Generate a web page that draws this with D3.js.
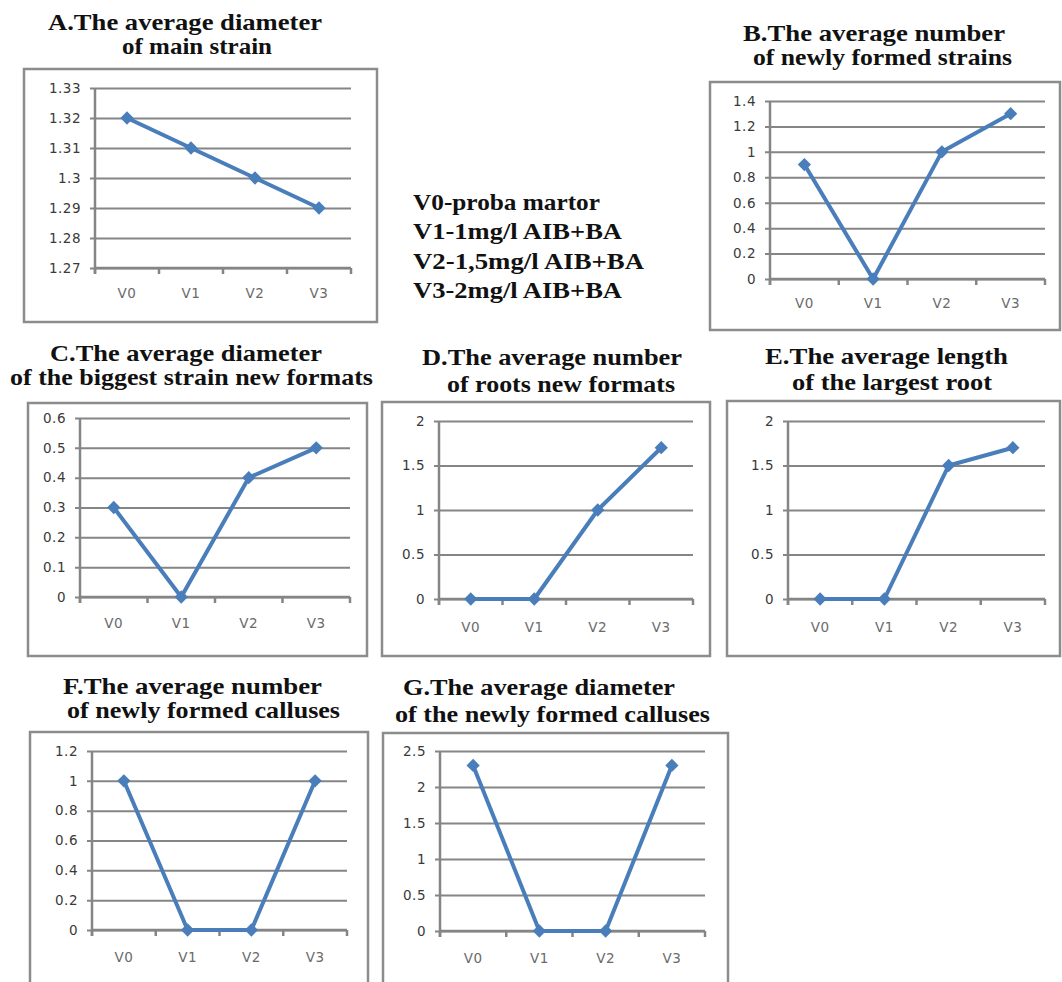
<!DOCTYPE html>
<html>
<head>
<meta charset="utf-8">
<script src="https://cdn.jsdelivr.net/npm/d3@7"></script>
<style>
  html, body { margin: 0; padding: 0; background: #fff; }
  svg { display: block; }
</style>
</head>
<body>
<svg id="chart" width="1062" height="982"></svg>
<script>
// ---------------- DATA ----------------
const categories = ["V0", "V1", "V2", "V3"];

const seriesA = [1.32, 1.31, 1.30, 1.29];
const seriesB = [0.9, 0, 1.0, 1.3];
const seriesC = [0.3, 0, 0.4, 0.5];
const seriesD = [0, 0, 1.0, 1.7];
const seriesE = [0, 0, 1.5, 1.7];
const seriesF = [1.0, 0, 0, 1.0];
const seriesG = [2.3, 0, 0, 2.3];

const ticksA = [1.27, 1.28, 1.29, 1.30, 1.31, 1.32, 1.33];
const tickLabelsA = ["1.27", "1.28", "1.29", "1.3", "1.31", "1.32", "1.33"];
const ticksB = [0, 0.2, 0.4, 0.6, 0.8, 1.0, 1.2, 1.4];
const tickLabelsB = ["0", "0.2", "0.4", "0.6", "0.8", "1", "1.2", "1.4"];
const ticksC = [0, 0.1, 0.2, 0.3, 0.4, 0.5, 0.6];
const tickLabelsC = ["0", "0.1", "0.2", "0.3", "0.4", "0.5", "0.6"];
const ticksD = [0, 0.5, 1.0, 1.5, 2.0];
const tickLabelsD = ["0", "0.5", "1", "1.5", "2"];
const ticksE = [0, 0.5, 1.0, 1.5, 2.0];
const tickLabelsE = ["0", "0.5", "1", "1.5", "2"];
const ticksF = [0, 0.2, 0.4, 0.6, 0.8, 1.0, 1.2];
const tickLabelsF = ["0", "0.2", "0.4", "0.6", "0.8", "1", "1.2"];
const ticksG = [0, 0.5, 1.0, 1.5, 2.0, 2.5];
const tickLabelsG = ["0", "0.5", "1", "1.5", "2", "2.5"];

const titleA = ["A.The average diameter", "of main strain"];
const titleB = ["B.The average number", "of newly formed strains"];
const titleC = ["C.The average diameter", "of the biggest strain new formats"];
const titleD = ["D.The average number", "of roots new formats"];
const titleE = ["E.The average length", "of the largest root"];
const titleF = ["F.The average number", "of newly formed calluses"];
const titleG = ["G.The average diameter", "of the newly formed calluses"];

const legendLines = ["V0-proba martor", "V1-1mg/l AIB+BA", "V2-1,5mg/l AIB+BA", "V3-2mg/l AIB+BA"];

// ---------------- LAYOUT ----------------
// titlePos: [left x, baseline y, rendered width]
const panels = [
  { title: titleA, values: seriesA, ticks: ticksA, labels: tickLabelsA,
    frame: [24, 69, 377, 322], plot: [95, 88, 351, 268], xLabelY: 293,
    titlePos: [[48, 30, 274], [122, 54, 150]] },
  { title: titleB, values: seriesB, ticks: ticksB, labels: tickLabelsB,
    frame: [710, 82, 1060, 330], plot: [770, 101, 1045, 279], xLabelY: 303,
    titlePos: [[743, 41, 262], [753, 65, 259]] },
  { title: titleC, values: seriesC, ticks: ticksC, labels: tickLabelsC,
    frame: [28, 403, 367, 656], plot: [80, 418, 350, 597], xLabelY: 623,
    titlePos: [[50, 361, 272], [10, 385, 363]] },
  { title: titleD, values: seriesD, ticks: ticksD, labels: tickLabelsD,
    frame: [382, 402, 710, 656], plot: [439, 421, 693, 599], xLabelY: 627,
    titlePos: [[422, 365, 260], [447, 392, 228]] },
  { title: titleE, values: seriesE, ticks: ticksE, labels: tickLabelsE,
    frame: [727, 401, 1060, 656], plot: [788, 421, 1045, 599], xLabelY: 627,
    titlePos: [[765, 364, 243], [792, 390, 200]] },
  { title: titleF, values: seriesF, ticks: ticksF, labels: tickLabelsF,
    frame: [30, 732, 368, 995], plot: [92, 751, 347, 930], xLabelY: 957,
    titlePos: [[63, 694, 259], [67, 718, 273]] },
  { title: titleG, values: seriesG, ticks: ticksG, labels: tickLabelsG,
    frame: [383, 733, 728, 995], plot: [440, 751, 705, 931], xLabelY: 958,
    titlePos: [[403, 695, 272], [395, 722, 315]] }
];
const legendPos = { x: 413, y: 210, dy: 29.3, widths: [187, 209, 231, 209] };

const LINE_COLOR = "#4a7ebb";
const GRID_COLOR = "#858585";
const FRAME_COLOR = "#8c8c8c";
const TITLE_FONT = "'Liberation Serif', 'Times New Roman', serif";
const TICK_FONT = "'DejaVu Sans', Verdana, sans-serif";
const TITLE_SIZE = 23.5;

const svg = d3.select("#chart");

panels.forEach(p => {
  const g = svg.append("g");

  // titles
  p.title.forEach((t, i) => {
    g.append("text")
      .attr("x", p.titlePos[i][0])
      .attr("y", p.titlePos[i][1])
      .attr("textLength", p.titlePos[i][2])
      .attr("lengthAdjust", "spacingAndGlyphs")
      .attr("font-family", TITLE_FONT)
      .attr("font-weight", "bold")
      .attr("font-size", TITLE_SIZE)
      .attr("fill", "#111")
      .text(t);
  });

  // frame
  const [fx0, fy0, fx1, fy1] = p.frame;
  g.append("rect")
    .attr("x", fx0).attr("y", fy0)
    .attr("width", fx1 - fx0).attr("height", fy1 - fy0)
    .attr("fill", "#fff")
    .attr("stroke", FRAME_COLOR)
    .attr("stroke-width", 2.5);

  const [px0, py0, px1, py1] = p.plot;
  const x = d3.scaleBand().domain(categories).range([px0, px1]).padding(0);
  const y = d3.scaleLinear()
    .domain([p.ticks[0], p.ticks[p.ticks.length - 1]])
    .range([py1, py0]);

  // y axis with gridlines
  const yAxis = d3.axisLeft(y)
    .tickValues(p.ticks)
    .tickFormat((d, i) => p.labels[i])
    .tickSizeInner(-(px1 - px0))
    .tickSizeOuter(0)
    .tickPadding(14);
  const ya = g.append("g")
    .attr("transform", `translate(${px0},0)`)
    .call(yAxis);
  ya.select(".domain").remove();
  ya.selectAll(".tick line")
    .attr("x1", -5)
    .attr("stroke", GRID_COLOR)
    .attr("stroke-width", 2);
  ya.selectAll(".tick text")
    .attr("x", -14)
    .attr("font-family", TICK_FONT)
    .attr("font-size", 13.5)
    .attr("letter-spacing", 0.5)
    .attr("fill", "#3a3a3a");

  // y axis line
  g.append("line")
    .attr("x1", px0).attr("x2", px0)
    .attr("y1", y.range()[1]).attr("y2", y.range()[0] + 6)
    .attr("stroke", GRID_COLOR).attr("stroke-width", 2.5);

  // x axis line and boundary ticks
  const xa = g.append("g").attr("transform", `translate(0,${py1})`);
  xa.append("line")
    .attr("x1", px0).attr("x2", px1)
    .attr("stroke", GRID_COLOR).attr("stroke-width", 2.5);
  const bounds = categories.map(c => x(c) + x.bandwidth()).concat([x(categories[0])]);
  xa.selectAll("line.tk").data(bounds).join("line")
    .attr("class", "tk")
    .attr("x1", d => d).attr("x2", d => d)
    .attr("y1", 0).attr("y2", 6)
    .attr("stroke", GRID_COLOR).attr("stroke-width", 2.5);

  // x labels
  const xAxis = d3.axisBottom(x).tickSize(0).tickPadding(0);
  const xl = g.append("g")
    .attr("transform", `translate(0,${p.xLabelY})`)
    .call(xAxis);
  xl.select(".domain").remove();
  xl.selectAll(".tick text")
    .attr("y", 0)
    .attr("dy", "0.35em")
    .attr("font-family", TICK_FONT)
    .attr("font-size", 13.5)
    .attr("letter-spacing", 0.5)
    .attr("fill", "#6a6a6a");

  // series line
  const cx = c => x(c) + x.bandwidth() / 2;
  const line = d3.line()
    .x((d, i) => cx(categories[i]))
    .y(d => y(d));
  g.append("path")
    .datum(p.values)
    .attr("d", line)
    .attr("fill", "none")
    .attr("stroke", LINE_COLOR)
    .attr("stroke-width", 4)
    .attr("stroke-linejoin", "round");

  // diamond markers
  const sym = d3.symbol().type(d3.symbolSquare).size(88);
  g.selectAll("path.mk").data(p.values).join("path")
    .attr("class", "mk")
    .attr("d", sym)
    .attr("transform", (d, i) => `translate(${cx(categories[i])},${y(d)}) rotate(45)`)
    .attr("fill", LINE_COLOR);
});

// legend text
const legend = svg.append("g");
legend.selectAll("text").data(legendLines).join("text")
  .attr("x", legendPos.x)
  .attr("y", (d, i) => legendPos.y + i * legendPos.dy)
  .attr("textLength", (d, i) => legendPos.widths[i])
  .attr("lengthAdjust", "spacingAndGlyphs")
  .attr("font-family", TITLE_FONT)
  .attr("font-weight", "bold")
  .attr("font-size", TITLE_SIZE)
  .attr("fill", "#111")
  .text(d => d);
</script>
</body>
</html>
